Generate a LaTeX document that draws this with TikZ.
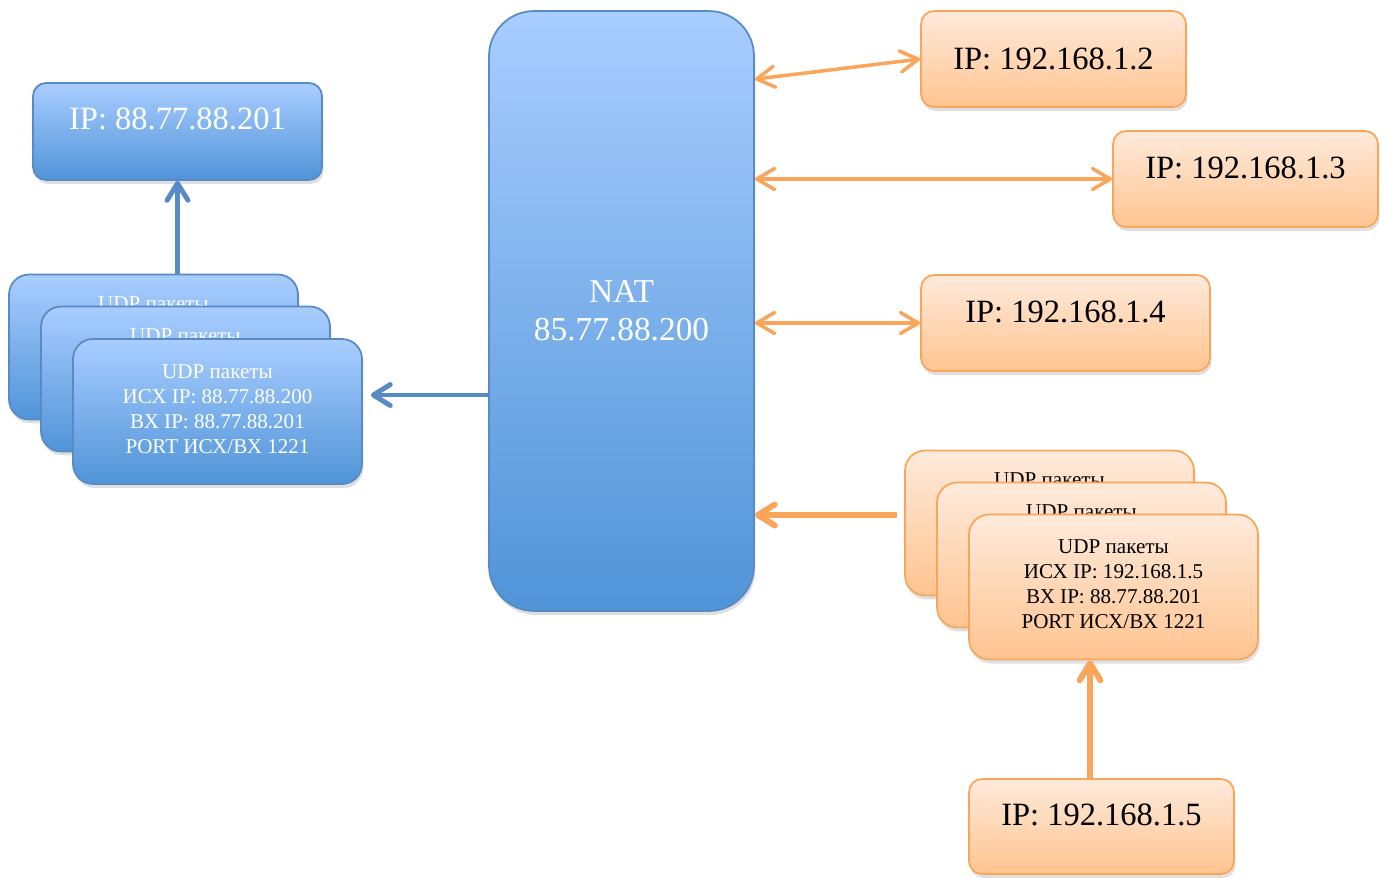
\documentclass[tikz,border=0pt]{standalone}
\usepackage{fontspec}
\setmainfont{Liberation Serif}
\usetikzlibrary{arrows.meta, shadows}

\definecolor{bluetop}{RGB}{169,205,255}
\definecolor{bluebot}{RGB}{80,148,216}
\definecolor{blueline}{RGB}{88,138,198}
\definecolor{orangetop}{RGB}{254,234,219}
\definecolor{orangebot}{RGB}{255,196,144}
\definecolor{orangeline}{RGB}{249,166,90}

\tikzstyle{bluebox} = [rectangle, rounded corners=0.26cm, draw=blueline, line width=1pt, top color=bluetop, bottom color=bluebot, text=white, inner sep=0pt, text centered, drop shadow={opacity=0.25,shadow xshift=0.03cm,shadow yshift=-0.08cm}]
\tikzstyle{orangebox} = [rectangle, rounded corners=0.26cm, draw=orangeline, line width=1pt, top color=orangetop, bottom color=orangebot, text=black, inner sep=0pt, text centered, drop shadow={opacity=0.25,shadow xshift=0.03cm,shadow yshift=-0.08cm}]
\tikzstyle{ipblue} = [bluebox, minimum height=1.94cm, font=\fontsize{18.5}{22}\selectfont]
\tikzstyle{iporange} = [orangebox, minimum width=5.3cm, minimum height=1.92cm, font=\fontsize{18.5}{22}\selectfont]
\tikzstyle{raised} = [text height=13pt, text depth=14pt]
\tikzstyle{udpblue} = [bluebox, rounded corners=0.4cm, minimum width=5.78cm, minimum height=2.9cm, align=center, font=\fontsize{12}{14.2}\selectfont]
\tikzstyle{udporange} = [orangebox, rounded corners=0.4cm, minimum width=5.78cm, minimum height=2.9cm, align=center, font=\fontsize{12}{14.2}\selectfont]
\tikzstyle{behind} = [text height=9pt, text depth=50pt]
\tikzstyle{natbox} = [bluebox, rounded corners=0.9cm, minimum width=5.3cm, minimum height=12cm, align=center, font=\fontsize{19}{21.5}\selectfont]
\tikzstyle{bluearrow} = [draw=blueline, line width=2.8pt, -{Straight Barb[length=0.34cm,width=0.42cm,round]}]
\tikzstyle{orangearrow} = [draw=orangeline, line width=3.4pt, -{Straight Barb[length=0.34cm,width=0.42cm,round]}]
\tikzstyle{orangelink} = [draw=orangeline, line width=2pt, {Straight Barb[length=0.36cm,width=0.42cm,round]}-{Straight Barb[length=0.36cm,width=0.42cm,round]}]

\begin{document}
\begin{tikzpicture}[x=0.02cm,y=-0.02cm]
\useasboundingbox (0,0) rectangle (1386,877);

\node (ext) [ipblue, minimum width=5.78cm, text height=13pt, text depth=15pt] at (177.5,131.5) {IP: 88.77.88.201};

% stacked packets, only the front one shows all its lines
\node (udpL1) [udpblue, behind] at (153.5,347) {UDP пакеты};
\node (udpL2) [udpblue, behind] at (185.5,379) {UDP пакеты};
\node (udpL3) [udpblue, text depth=3pt] at (217.5,411.5) {UDP пакеты\\ИСХ IP: 88.77.88.200\\ВХ IP: 88.77.88.201\\PORT ИСХ/ВХ 1221};

\node (nat) [natbox] at (621.5,311) {NAT\\85.77.88.200};

\node (hostA) [iporange] at (1053.5,59) {IP: 192.168.1.2};
\node (hostB) [iporange, raised] at (1245.5,179) {IP: 192.168.1.3};
\node (hostC) [iporange, raised, minimum width=5.78cm] at (1065.5,323) {IP: 192.168.1.4};

\node (udpR1) [udporange, behind] at (1049.5,523) {UDP пакеты};
\node (udpR2) [udporange, behind] at (1081.5,555) {UDP пакеты};
\node (udpR3) [udporange, text depth=3pt] at (1113.5,587) {UDP пакеты\\ИСХ IP: 192.168.1.5\\ВХ IP: 88.77.88.201\\PORT ИСХ/ВХ 1221};

\node (hostE) [iporange, raised, minimum height=1.9cm] at (1101.5,826.5) {IP: 192.168.1.5};


\draw[bluearrow] (ext.south |- udpL1.north) -- (ext.south);
\draw[bluearrow] ([yshift=0.33cm]nat.west |- udpL3.east) -- ([xshift=0.16cm,yshift=0.33cm]udpL3.east);

\draw[orangelink] ([yshift=-1.38cm]nat.north east) -- (hostA.west);
\draw[orangelink] (nat.east |- hostB.west) -- (hostB.west);
\draw[orangelink] (nat.east |- hostC.west) -- (hostC.west);

\draw[orangearrow] ([xshift=-0.14cm,yshift=0.16cm]udpR1.west) -- ([yshift=0.16cm]nat.east |- udpR1.west);
\draw[orangearrow] ([xshift=-0.23cm]hostE.north) -- ([xshift=-0.23cm]hostE.north |- udpR3.south);

\end{tikzpicture}
\end{document}
